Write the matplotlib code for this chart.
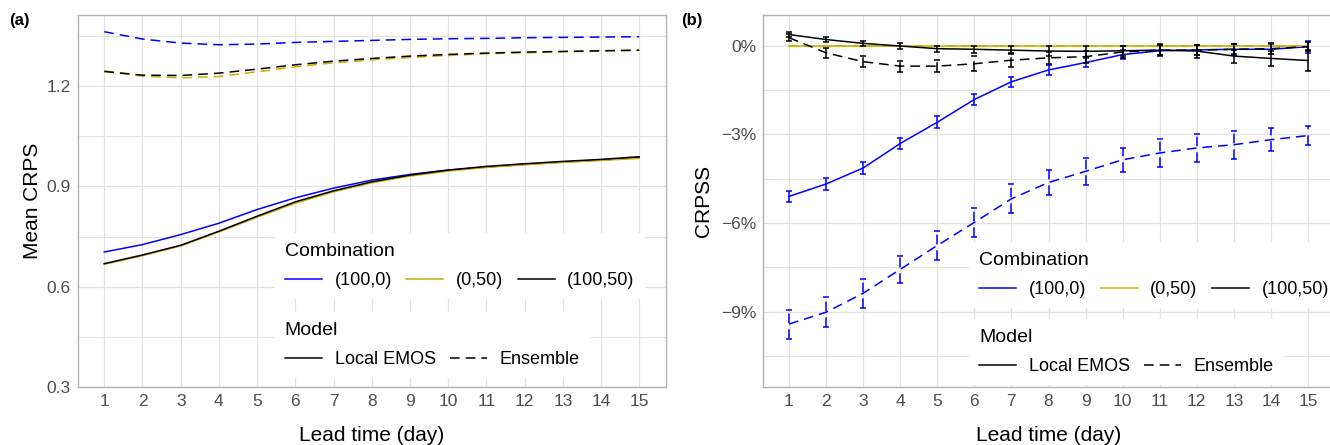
import numpy as np
import matplotlib
matplotlib.use('Agg')
import matplotlib.pyplot as plt
from matplotlib.lines import Line2D
from matplotlib.ticker import FixedLocator

plt.rcParams['font.family'] = ['Liberation Sans', 'DejaVu Sans']
plt.rcParams['lines.scale_dashes'] = False

# lead time (days)
days = list(range(1, 16))

# panel (a): mean CRPS
crps_emos_100_0 = [0.704, 0.726, 0.756, 0.790, 0.831, 0.866, 0.895, 0.919, 0.936, 0.949, 0.958, 0.966, 0.973, 0.979, 0.987]
crps_emos_0_50 = [0.667, 0.693, 0.722, 0.764, 0.808, 0.850, 0.884, 0.911, 0.931, 0.946, 0.957, 0.965, 0.972, 0.978, 0.984]
crps_emos_100_50 = [0.669, 0.695, 0.724, 0.766, 0.811, 0.854, 0.887, 0.914, 0.934, 0.949, 0.960, 0.968, 0.975, 0.981, 0.989]
crps_ens_100_0 = [1.363, 1.341, 1.329, 1.324, 1.326, 1.331, 1.334, 1.337, 1.340, 1.342, 1.343, 1.345, 1.346, 1.347, 1.348]
crps_ens_0_50 = [1.246, 1.230, 1.225, 1.229, 1.243, 1.258, 1.270, 1.279, 1.286, 1.292, 1.297, 1.300, 1.303, 1.305, 1.307]
crps_ens_100_50 = [1.244, 1.233, 1.232, 1.239, 1.251, 1.264, 1.275, 1.283, 1.290, 1.295, 1.299, 1.302, 1.304, 1.306, 1.308]

# panel (b): CRPSS in percent, with error bar half widths
crpss_emos_100_0 = [-5.10, -4.68, -4.14, -3.31, -2.59, -1.82, -1.22, -0.82, -0.57, -0.30, -0.17, -0.14, -0.12, -0.12, -0.03]
err_emos_100_0 = [0.19, 0.20, 0.20, 0.20, 0.20, 0.18, 0.17, 0.16, 0.16, 0.16, 0.16, 0.16, 0.17, 0.17, 0.20]
crpss_ens_100_0 = [-9.42, -9.02, -8.38, -7.57, -6.76, -5.98, -5.18, -4.63, -4.25, -3.86, -3.63, -3.46, -3.35, -3.18, -3.04]
err_ens_100_0 = [0.49, 0.51, 0.49, 0.45, 0.49, 0.50, 0.49, 0.43, 0.45, 0.41, 0.46, 0.46, 0.47, 0.39, 0.33]
crpss_emos_0_50 = [0.0] * 15
crpss_ens_0_50 = [0.0] * 15
crpss_emos_100_50 = [0.38, 0.21, 0.08, -0.01, -0.10, -0.12, -0.15, -0.18, -0.19, -0.17, -0.15, -0.18, -0.35, -0.43, -0.50]
err_emos_100_50 = [0.09, 0.09, 0.08, 0.10, 0.10, 0.12, 0.13, 0.17, 0.18, 0.17, 0.20, 0.22, 0.22, 0.25, 0.35]
crpss_ens_100_50 = [0.27, -0.24, -0.54, -0.69, -0.69, -0.61, -0.49, -0.41, -0.37, -0.21, -0.15, -0.15, -0.12, -0.10, -0.03]
err_ens_100_50 = [0.12, 0.18, 0.19, 0.19, 0.20, 0.25, 0.24, 0.20, 0.20, 0.20, 0.18, 0.18, 0.18, 0.18, 0.15]

combos = ['(100,0)', '(0,50)', '(100,50)']
models = ['Local EMOS', 'Ensemble']
colors = {'(100,0)': '#0000FF', '(0,50)': '#CDAD00', '(100,50)': '#000000'}
dash = (0, (7.0, 4.3))
styles = {'Local EMOS': '-', 'Ensemble': dash}
LW = 1.1

W, H = 1330, 445
fig = plt.figure(figsize=(W / 100, H / 100), dpi=100)
ax1 = fig.add_axes([77.5 / W, 58 / H, 588.5 / W, 372 / H])
ax2 = fig.add_axes([763 / W, 58 / H, 571 / W, 372 / H])


def style_axes(ax):
    ax.set_xlim(0.3, 15.7)
    ax.set_xticks(days)
    ax.tick_params(length=0, labelsize=12.5, labelcolor='#4d4d4d', pad=5)
    ax.grid(True, which='major', color='#e2e2e2', lw=0.9, zorder=0)
    ax.grid(True, which='minor', axis='y', color='#e2e2e2', lw=0.7, zorder=0)
    ax.tick_params(which='minor', length=0)
    for s in ax.spines.values():
        s.set_color('#b3b3b3')
        s.set_linewidth(1.0)
    ax.set_axisbelow(True)
    ax.set_xlabel('Lead time (day)', fontsize=15)
    ax.xaxis.set_label_coords(0.5, -0.13)
    ax.xaxis.label.set_va('center')


def add_legends(ax, x0, y_comb, y_model):
    common = dict(loc='upper left', borderaxespad=0, fontsize=13, title_fontsize=14,
                  alignment='left', frameon=True, facecolor='white', edgecolor='none',
                  framealpha=1, fancybox=False, handlelength=2.05, handletextpad=0.7,
                  columnspacing=0.8, borderpad=0.55, labelspacing=0.69)
    comb_handles = [Line2D([], [], color=colors[c], lw=LW) for c in combos]
    leg1 = ax.legend(comb_handles, combos, title='Combination', ncol=3,
                     bbox_to_anchor=(x0, y_comb), **common)
    ax.add_artist(leg1)
    model_handles = [Line2D([], [], color='black', lw=LW, linestyle=styles[m]) for m in models]
    ax.legend(model_handles, models, title='Model', ncol=2,
              bbox_to_anchor=(x0, y_model), **common)


# (a) Mean CRPS
crps = {
    ('(100,0)', 'Local EMOS'): crps_emos_100_0,
    ('(0,50)', 'Local EMOS'): crps_emos_0_50,
    ('(100,50)', 'Local EMOS'): crps_emos_100_50,
    ('(100,0)', 'Ensemble'): crps_ens_100_0,
    ('(0,50)', 'Ensemble'): crps_ens_0_50,
    ('(100,50)', 'Ensemble'): crps_ens_100_50,
}
for (c, m), vals in crps.items():
    ax1.plot(days, vals, color=colors[c], linestyle=styles[m], lw=LW, zorder=3)

style_axes(ax1)
ax1.set_ylim(0.3, 1.413)
ax1.set_yticks([0.3, 0.6, 0.9, 1.2])
ax1.set_yticklabels(['0.3', '0.6', '0.9', '1.2'])
ax1.yaxis.set_minor_locator(FixedLocator([0.45, 0.75, 1.05, 1.35]))
ax1.set_ylabel('Mean CRPS', fontsize=15)
ax1.yaxis.set_label_coords(-0.077, 0.5)
ax1.yaxis.label.set_va('center')
add_legends(ax1, 0.3355, 0.4144, 0.2015)

# (b) CRPSS with error bars
crpss = [
    ('(100,0)', 'Local EMOS', crpss_emos_100_0, err_emos_100_0),
    ('(100,0)', 'Ensemble', crpss_ens_100_0, err_ens_100_0),
    ('(0,50)', 'Local EMOS', crpss_emos_0_50, None),
    ('(0,50)', 'Ensemble', crpss_ens_0_50, None),
    ('(100,50)', 'Local EMOS', crpss_emos_100_50, err_emos_100_50),
    ('(100,50)', 'Ensemble', crpss_ens_100_50, err_ens_100_50),
]
for c, m, vals, err in crpss:
    ax2.plot(days, vals, color=colors[c], linestyle=styles[m], lw=LW, zorder=3)
    if err is not None:
        eb = ax2.errorbar(days, vals, yerr=err, fmt='none', ecolor=colors[c],
                          elinewidth=LW, capsize=2.3, capthick=LW, zorder=3)
        eb[2][0].set_linestyle(styles[m])

style_axes(ax2)
ax2.set_ylim(-11.55, 1.04)
ax2.set_yticks([-9, -6, -3, 0])
ax2.set_yticklabels(['\u22129%', '\u22126%', '\u22123%', '0%'])
ax2.yaxis.set_minor_locator(FixedLocator([-10.5, -7.5, -4.5, -1.5]))
ax2.set_ylabel('CRPSS', fontsize=15)
ax2.yaxis.set_label_coords(-0.105, 0.5)
ax2.yaxis.label.set_va('center')
add_legends(ax2, 0.361, 0.390, 0.183)

fig.text(19.5 / W, 1 - 20 / H, '(a)', fontsize=12, fontweight='bold', ha='center', va='center')
fig.text(692 / W, 1 - 20 / H, '(b)', fontsize=12, fontweight='bold', ha='center', va='center')

fig.savefig('out.png', dpi=100, facecolor='white')
